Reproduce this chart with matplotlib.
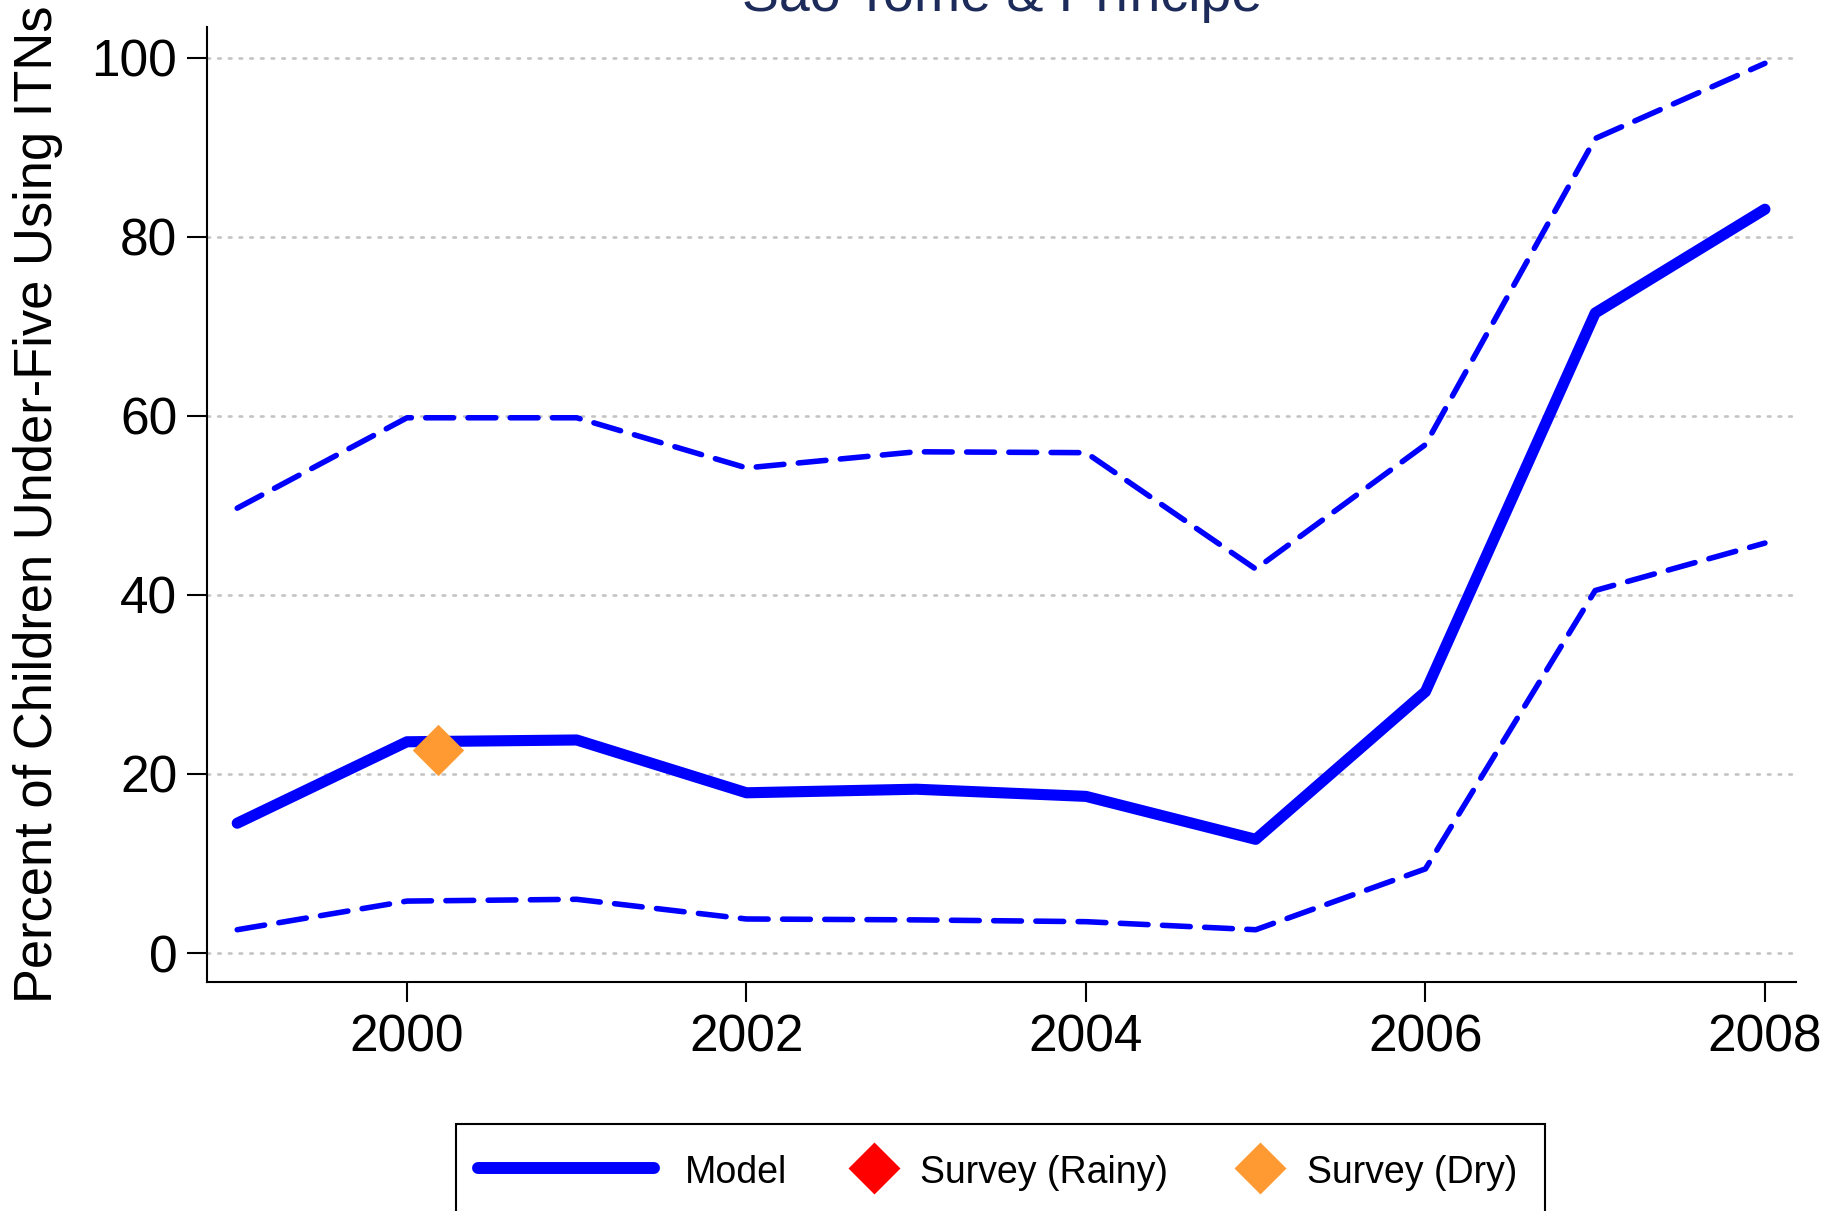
import matplotlib
matplotlib.use("Agg")
import matplotlib.pyplot as plt
from matplotlib.path import Path
from matplotlib.lines import Line2D
from matplotlib.patches import Rectangle

plt.rcParams['font.family'] = ['Liberation Sans', 'DejaVu Sans']

# data
years = [1999, 2000, 2001, 2002, 2003, 2004, 2005, 2006, 2007, 2008]
model = [14.5, 23.6, 23.8, 17.9, 18.3, 17.5, 12.7, 29.2, 71.5, 83.1]
upper = [49.7, 59.8, 59.8, 54.2, 56.0, 55.9, 42.9, 56.8, 91.0, 99.4]
lower = [2.6, 5.8, 6.0, 3.8, 3.7, 3.5, 2.6, 9.4, 40.5, 45.8]

rainy_years = []
rainy_vals = []
dry_years = [2000.18]
dry_vals = [22.7]

xticks = [2000, 2002, 2004, 2006, 2008]
yticks = [0, 20, 40, 60, 80, 100]

title = "São Tomé & Príncipe"
ylabel = "Percent of Children Under-Five Using ITNs"

BLUE = '#0000ff'
RED = '#ff0000'
ORANGE = '#ff9a33'

W, H = 1831, 1211
fig = plt.figure(figsize=(W / 100, H / 100), dpi=100)


def fx(px):
    return px / W


def fy(py):
    return 1 - py / H


# axes box in pixels: left 207, right 1796, top 27, bottom 982
ax = fig.add_axes([fx(207), fy(982), fx(1796 - 207), (982 - 27) / H])

diamond = Path([(0, 1), (1, 0), (0, -1), (-1, 0), (0, 1)],
               [Path.MOVETO, Path.LINETO, Path.LINETO, Path.LINETO, Path.CLOSEPOLY])

ax.plot(years, upper, color=BLUE, lw=4.0, dashes=(5.0, 2.6),
        dash_capstyle='round', dash_joinstyle='round')
ax.plot(years, lower, color=BLUE, lw=4.0, dashes=(5.0, 2.6),
        dash_capstyle='round', dash_joinstyle='round')
ax.plot(years, model, color=BLUE, lw=8, solid_capstyle='round',
        solid_joinstyle='round')
ax.plot(rainy_years, rainy_vals, ls='none', marker=diamond, ms=37,
        mfc=RED, mew=0)
ax.plot(dry_years, dry_vals, ls='none', marker=diamond, ms=37,
        mfc=ORANGE, mew=0, zorder=5)

ax.set_xlim(1998.822, 2008.183)
ax.set_ylim(-3.24, 103.46)
ax.set_xticks(xticks)
ax.set_yticks(yticks)
ax.tick_params(axis='both', labelsize=37, length=14.4, width=1.5,
               direction='out', pad=7)
ax.tick_params(axis='x', pad=8)
for s in ['top', 'right']:
    ax.spines[s].set_visible(False)
for s in ['left', 'bottom']:
    ax.spines[s].set_linewidth(1.5)

ax.yaxis.grid(True, color='#c4c4c4', lw=1.9, linestyle=(0, (1, 3.05)))
for gl in ax.get_ygridlines():
    gl.set_dash_capstyle('round')
ax.set_axisbelow(True)

fig.text(fx(1002), fy(11), title, fontsize=40, color='#1c2b5a',
         ha='center', va='baseline')
fig.text(fx(52), fy(504), ylabel, fontsize=37.8, rotation=90,
         rotation_mode='anchor', ha='center', va='baseline')

# legend box along the bottom edge
fig.add_artist(Rectangle((fx(456), fy(1218)), fx(1545 - 456), (1218 - 1124) / H,
                         transform=fig.transFigure, fill=False,
                         ec='black', lw=1.5))
row_y = fy(1168)
text_y = fy(1183)
fig.add_artist(Line2D([fx(478), fx(654)], [row_y, row_y], color=BLUE, lw=8.6,
                      solid_capstyle='round', transform=fig.transFigure))
fig.text(fx(685), text_y, 'Model', fontsize=27, va='baseline')
fig.add_artist(Line2D([fx(874.5)], [row_y], ls='none', marker=diamond, ms=37.4,
                      mfc=RED, mew=0, transform=fig.transFigure))
fig.text(fx(920), text_y, 'Survey (Rainy)', fontsize=27, va='baseline')
fig.add_artist(Line2D([fx(1260)], [row_y], ls='none', marker=diamond, ms=37.4,
                      mfc=ORANGE, mew=0, transform=fig.transFigure))
fig.text(fx(1307), text_y, 'Survey (Dry)', fontsize=27, va='baseline')

fig.savefig('out.png', dpi=100)
